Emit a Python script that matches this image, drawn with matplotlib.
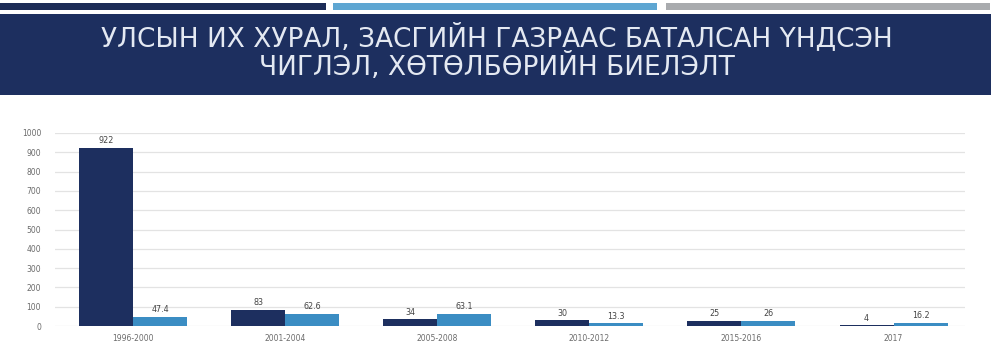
import numpy as np
import matplotlib
matplotlib.use('Agg')
import matplotlib.pyplot as plt
from matplotlib.patches import Rectangle

# data
periods = ['1996-2000', '2001-2004', '2005-2008', '2010-2012', '2015-2016', '2017']
dark_vals = [922, 83, 34, 30, 25, 4]
light_vals = [47.4, 62.6, 63.1, 13.3, 26, 16.2]
yticks = [0, 100, 200, 300, 400, 500, 600, 700, 800, 900, 1000]

title_1 = 'УЛСЫН ИХ ХУРАЛ, ЗАСГИЙН ГАЗРААС БАТАЛСАН ҮНДСЭН'
title_2 = 'ЧИГЛЭЛ, ХӨТӨЛБӨРИЙН БИЕЛЭЛТ'

navy = '#1d2f5f'
blue = '#3b8dc3'
txt_gray = '#6b6b6b'

W, H = 1000, 357
fig = plt.figure(figsize=(W / 100, H / 100), dpi=100)
fig.patch.set_facecolor('white')

# stripes on top
def fig_rect(x0, y0, x1, y1, color):
    fig.add_artist(Rectangle((x0 / W, 1 - y1 / H), (x1 - x0) / W, (y1 - y0) / H,
                             transform=fig.transFigure, color=color, lw=0))

fig_rect(0, 3, 326, 10, '#1c2c57')
fig_rect(333, 3, 657, 10, '#5ea6d2')
fig_rect(666, 3, 990, 10, '#a9abae')
# banner
fig_rect(0, 14, 991, 95, navy)

fig.text(0.497, 1 - 38 / H, title_1, color='#e4e9f2', fontsize=19,
         ha='center', va='center')
fig.text(0.497, 1 - 67 / H, title_2, color='#e4e9f2', fontsize=19,
         ha='center', va='center')

# chart
ax = fig.add_axes([55 / W, 1 - 326 / H, 910 / W, (326 - 133) / H])
x = np.arange(len(periods))
bw = 0.355
b1 = ax.bar(x - bw / 2, dark_vals, bw, color=navy, zorder=3)
b2 = ax.bar(x + bw / 2, light_vals, bw, color=blue, zorder=3)

for bars, vals in ((b1, dark_vals), (b2, light_vals)):
    for r, v in zip(bars, vals):
        ax.text(r.get_x() + r.get_width() / 2, v + 14, f'{v:g}', ha='center',
                va='bottom', fontsize=5.8, color='#444444')

ax.set_xlim(-0.513, 5.47)
ax.set_ylim(0, 1000)
ax.set_yticks(yticks)
ax.set_xticks(x)
ax.set_xticklabels(periods)
ax.tick_params(axis='both', length=0, labelsize=5.5, labelcolor=txt_gray)
ax.tick_params(axis='y', pad=10)
ax.tick_params(axis='x', pad=6)
ax.yaxis.grid(True, color='#e3e3e3', lw=0.9, zorder=0)
for s in ax.spines.values():
    s.set_visible(False)
ax.set_facecolor('none')

fig.savefig('out.png', dpi=100)
